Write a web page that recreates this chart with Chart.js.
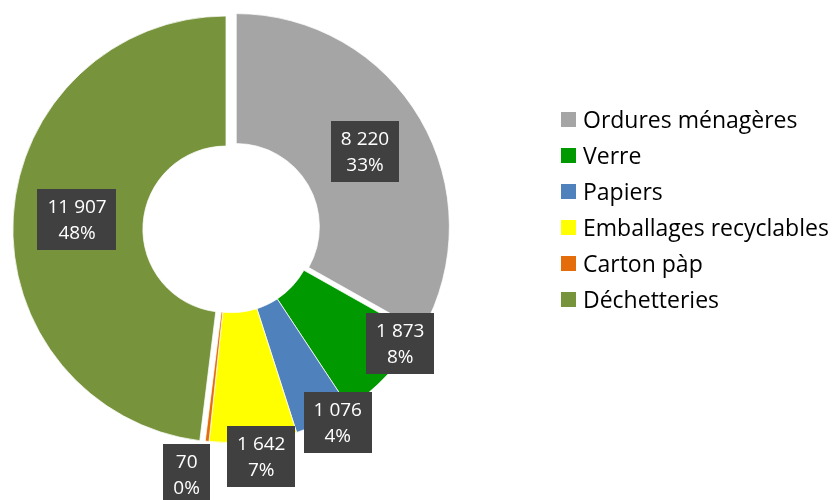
<!DOCTYPE html>
<html>
<head>
<meta charset="utf-8">
<script src="https://cdn.jsdelivr.net/npm/chart.js@4/dist/chart.umd.min.js"></script>
<style>
  body { margin: 0; background: #fff; }
  #wrap { position: relative; width: 833px; height: 500px; }
  #legend { position: absolute; left: 561px; top: 101px; font-family: "Open Sans", sans-serif; font-size: 23px; color: #000; }
  .item { display: flex; align-items: center; height: 36px; white-space: nowrap; }
  .swatch { width: 15px; height: 15px; margin-right: 7px; }
</style>
</head>
<body>
<div id="wrap">
  <canvas id="canvas" width="833" height="500"></canvas>
  <div id="legend"></div>
</div>
<script>
// Data
const categories = ['Ordures ménagères', 'Verre', 'Papiers', 'Emballages recyclables', 'Carton pàp', 'Déchetteries'];
const tonnages = [8220, 1873, 1076, 1642, 70, 11907];

// Styles
const sliceColors = ['#A5A5A5', '#009900', '#4F81BD', '#FFFF00', '#E46C0A', '#77933C'];
const explode = [5.5, 0, 0, 0, 0, 5.5];            // px pulled out from center
const labelDist = [0.70, 0.955, 1.035, 1.075, 1.17, 0.70]; // fraction of outer radius
const labelTurn = [0, -9, -3.2, -1.6, 3.8, 0];      // degrees from slice middle

function formatNumber(n) {
  return String(n).replace(/\B(?=(\d{3})+(?!\d))/g, ' ');
}

// pull some slices out after every update
const explodePlugin = {
  id: 'explode',
  afterUpdate(chart) {
    const arcs = chart.getDatasetMeta(0).data;
    arcs.forEach((arc, i) => {
      const mid = (arc.startAngle + arc.endAngle) / 2;
      arc.x += Math.cos(mid) * explode[i];
      arc.y += Math.sin(mid) * explode[i];
    });
  }
};

// dark boxes with value + percent
const boxLabels = {
  id: 'boxLabels',
  afterDatasetsDraw(chart) {
    const ctx = chart.ctx;
    const meta = chart.getDatasetMeta(0);
    const total = tonnages.reduce((a, b) => a + b, 0);
    ctx.save();
    ctx.font = '19px "Open Sans", sans-serif';
    ctx.textAlign = 'center';
    ctx.textBaseline = 'middle';
    meta.data.forEach((arc, i) => {
      const mid = (arc.startAngle + arc.endAngle) / 2 + labelTurn[i] * Math.PI / 180;
      const r = arc.outerRadius * labelDist[i];
      const x = arc.x + Math.cos(mid) * r;
      const y = arc.y + Math.sin(mid) * r;
      const line1 = formatNumber(tonnages[i]);
      const line2 = Math.round(tonnages[i] / total * 100) + '%';
      const w = Math.max(ctx.measureText(line1).width, ctx.measureText(line2).width) + 20;
      const h = 61;
      ctx.fillStyle = '#404040';
      ctx.fillRect(Math.round(x - w / 2), Math.round(y - h / 2), Math.round(w), h);
      ctx.fillStyle = '#fff';
      ctx.fillText(line1, x, y - 12);
      ctx.fillText(line2, x, y + 14);
    });
    ctx.restore();
  }
};

const ctx = document.getElementById('canvas').getContext('2d');

new Chart(ctx, {
  type: 'doughnut',
  data: {
    labels: categories,
    datasets: [{
      data: tonnages,
      backgroundColor: sliceColors,
      borderColor: '#fff',
      borderWidth: 0.75
    }]
  },
  options: {
    responsive: false,
    animation: false,
    cutout: '39%',
    layout: { padding: { top: 16, bottom: 57, left: 18, right: 388 } },
    plugins: {
      legend: { display: false },
      tooltip: { enabled: false }
    }
  },
  plugins: [explodePlugin, boxLabels]
});

// legend
const legendBox = document.getElementById('legend');
categories.forEach((name, i) => {
  const row = document.createElement('div');
  row.className = 'item';
  const sw = document.createElement('span');
  sw.className = 'swatch';
  sw.style.background = sliceColors[i];
  const txt = document.createElement('span');
  txt.textContent = name;
  row.appendChild(sw);
  row.appendChild(txt);
  legendBox.appendChild(row);
});
</script>
</body>
</html>
